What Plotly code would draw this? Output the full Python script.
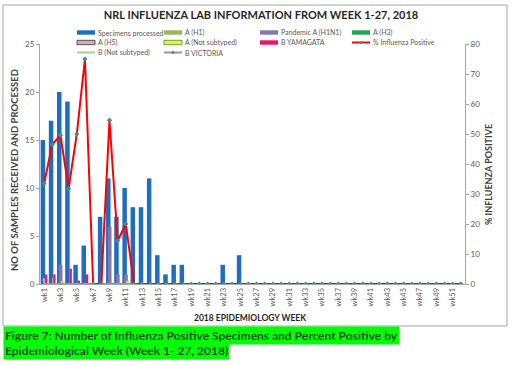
import plotly.graph_objects as go

weeks = ["wk%d" % i for i in range(1, 53)]
tick_weeks = weeks[::2]

specimens = [15, 17, 20, 19, 2, 4, 0, 7, 11, 7, 10, 8, 8, 11, 3, 1, 2, 2, 0, 0,
             0, 0, 2, 0, 3, 0, 0, 0, 0, 0, 0, 0, 0, 0, 0, 0, 0, 0, 0, 0,
             0, 0, 0, 0, 0, 0, 0, 0, 0, 0, 0, 0]
a_h1 = [0] * 52
pandemic_h1n1 = [0, 0, 2, 0, 0, 0, 0, 0, 6, 1, 1, 0, 0, 0, 0, 0, 0, 0, 0, 0,
                 0, 0, 0, 0, 0, 0, 0, 0, 0, 0, 0, 0, 0, 0, 0, 0, 0, 0, 0, 0,
                 0, 0, 0, 0, 0, 0, 0, 0, 0, 0, 0, 0]
a_h3 = [0] * 52
a_h5 = [0.6, 0, 0, 0, 0, 0, 0, 0, 0, 0, 0, 0, 0, 0, 0, 0, 0, 0, 0, 0,
        0, 0, 0, 0, 0, 0, 0, 0, 0, 0, 0, 0, 0, 0, 0, 0, 0, 0, 0, 0,
        0, 0, 0, 0, 0, 0, 0, 0, 0, 0, 0, 0]
a_not_subtyped = [0, 0.65, 0.3, 0, 0, 0, 0, 0, 0, 0, 0.35, 0, 0, 0, 0, 0, 0, 0, 0, 0,
                  0, 0, 0, 0, 0, 0, 0, 0, 0, 0, 0, 0, 0, 0, 0, 0, 0, 0, 0, 0,
                  0, 0, 0, 0, 0, 0, 0, 0, 0, 0, 0, 0]
b_yamagata = [1, 1, 0, 1.6, 0.35, 1, 0, 0, 0, 0, 0, 0, 0, 0, 0, 0, 0, 0, 0, 0,
              0, 0, 0, 0, 0, 0, 0, 0, 0, 0, 0, 0, 0, 0, 0, 0, 0, 0, 0, 0,
              0, 0, 0, 0, 0, 0, 0, 0, 0, 0, 0, 0]
b_not_subtyped = [0] * 52
b_victoria = [0] * 52
pct_positive = [33.5, 46.5, 49.6, 31.8, 50, 75, 0, 0, 54.6, 14.4, 20, 0, 0, 0, 0, 0, 0, 0, 0, 0,
                0, 0, 0, 0, 0, 0, 0, 0, 0, 0, 0, 0, 0, 0, 0, 0, 0, 0, 0, 0,
                0, 0, 0, 0, 0, 0, 0, 0, 0, 0, 0, 0]

FONT = "Lato"
GRAY = "#595959"

C_SPEC = "#1F6DC0"
C_H1 = "#9BB45A"
C_PAND = "#8574B0"
C_H3 = "#22A553"
C_H5 = "#D4A9BE"
C_ANS = "#EEF530"
C_YAM = "#F0126E"
C_PCT = "#FF0000"
C_PCT_MK = "#3F8F8C"
C_BNS = "#A9D18E"
C_VIC = "#9A8CC0"

fig = go.Figure()

def bar(name, vals, color, offset, width, line_color=None):
    fig.add_trace(go.Bar(
        name=name, x=weeks, y=vals, offset=offset, width=width, showlegend=False,
        marker=dict(color=color, line=dict(color=line_color or color, width=0.5 if line_color else 0)),
    ))

bar("Specimens processed", specimens, C_SPEC, -0.42, 0.55)
bar("A (H1)", a_h1, C_H1, -0.1, 0.3)
bar("Pandemic A (H1N1)", pandemic_h1n1, C_PAND, -0.2, 0.45)
bar("A (H3)", a_h3, C_H3, -0.1, 0.3)
bar("A (H5)", a_h5, "#B9A9D2", -0.15, 0.35)
bar("A (Not subtyped)", a_not_subtyped, C_ANS, 0.0, 0.28, "#4CA64C")
bar("B YAMAGATA", b_yamagata, C_YAM, 0.12, 0.28)

fig.add_trace(go.Scatter(
    name="B (Not subtyped)", x=weeks, y=b_not_subtyped, mode="lines", showlegend=False,
    line=dict(color=C_BNS, width=2),
))
fig.add_trace(go.Scatter(
    name="B VICTORIA", x=weeks, y=b_victoria, mode="lines+markers", showlegend=False,
    line=dict(color=C_VIC, width=2), marker=dict(size=3, color=C_VIC),
))
fig.add_trace(go.Scatter(
    name="% Influenza Positive", x=weeks, y=pct_positive, yaxis="y2", showlegend=False,
    mode="lines+markers", line=dict(color=C_PCT, width=2),
    marker=dict(symbol="diamond", size=4, color=C_PCT_MK),
))

L, R, T, B = 40, 465, 44, 284

def px_x(px):
    return (px - L) / float(R - L)

def px_y(py):
    return (B - py) / float(B - T)

fig.update_layout(
    width=512, height=365,
    margin=dict(l=L, r=512 - R, t=T, b=365 - B, autoexpand=False),
    paper_bgcolor="white", plot_bgcolor="white",
    barmode="overlay",
    font=dict(family=FONT, color=GRAY),
    showlegend=False,
    title=dict(text="<b>NRL INFLUENZA LAB INFORMATION FROM WEEK 1-27, 2018</b>",
               font=dict(family=FONT, size=11, color="#262626"),
               x=261 / 512, xref="container", xanchor="center",
               y=1 - 15 / 365, yref="container", yanchor="middle"),
    xaxis=dict(type="category", categoryorder="array", categoryarray=weeks,
               tickmode="array", tickvals=tick_weeks, ticktext=tick_weeks,
               tickangle=-90, tickfont=dict(size=7.5, color=GRAY),
               showline=True, linecolor="#A6A6A6", linewidth=1,
               ticks="", showgrid=False, range=[-0.5, 51.5]),
    yaxis=dict(range=[0, 25], tickvals=[0, 5, 10, 15, 20, 25],
               tickfont=dict(size=8, color=GRAY),
               showline=True, linecolor="#A6A6A6", linewidth=1,
               ticks="outside", ticklen=3, tickcolor="#A6A6A6",
               showgrid=False, zeroline=False),
    yaxis2=dict(overlaying="y", side="right", range=[0, 80],
                tickvals=[0, 10, 20, 30, 40, 50, 60, 70, 80],
                tickfont=dict(size=8, color=GRAY),
                showline=True, linecolor="#A6A6A6", linewidth=1,
                ticks="outside", ticklen=3, tickcolor="#A6A6A6",
                showgrid=False, zeroline=False),
)

# chart frame
fig.add_shape(type="rect", xref="paper", yref="paper",
              x0=px_x(3), x1=px_x(507), y0=px_y(326), y1=px_y(5),
              line=dict(color="#A6A6A6", width=1), fillcolor="rgba(0,0,0,0)", layer="below")

# legend (drawn manually to match the compact spreadsheet legend)
legend_items = [
    ("Specimens processed", "bar", C_SPEC, None, 77, 32.5),
    ("A (H1)", "bar", C_H1, None, 164, 32.5),
    ("Pandemic A (H1N1)", "bar", C_PAND, None, 260, 32.5),
    ("A (H3)", "bar", C_H3, None, 352, 32.5),
    ("A (H5)", "bar", C_H5, "#333333", 77, 42.5),
    ("A (Not subtyped)", "bar", C_ANS, "#3C8C3C", 164, 42.5),
    ("B YAMAGATA", "bar", C_YAM, None, 260, 42.5),
    ("% Influenza Positive", "linemk", C_PCT, C_PCT_MK, 352, 42.5),
    ("B (Not subtyped)", "line", C_BNS, None, 77, 52.5),
    ("B VICTORIA", "linemk", C_VIC, "#7F70A8", 164, 52.5),
]
for text, kind, col, col2, sx, sy in legend_items:
    if kind == "bar":
        fig.add_shape(type="rect", xref="paper", yref="paper",
                      x0=px_x(sx), x1=px_x(sx + 18), y0=px_y(sy + 2.2), y1=px_y(sy - 2.2),
                      fillcolor=col, line=dict(color=col2 or col, width=0.8 if col2 else 0))
    else:
        fig.add_shape(type="line", xref="paper", yref="paper",
                      x0=px_x(sx), x1=px_x(sx + 18), y0=px_y(sy), y1=px_y(sy),
                      line=dict(color=col, width=2))
        if kind == "linemk":
            fig.add_shape(type="circle", xref="paper", yref="paper",
                          x0=px_x(sx + 7.5), x1=px_x(sx + 10.5), y0=px_y(sy + 1.5), y1=px_y(sy - 1.5),
                          fillcolor=col2, line=dict(color=col2, width=0))
    fig.add_annotation(text=text, xref="paper", yref="paper", x=px_x(sx + 19), y=px_y(sy),
                       xanchor="left", yanchor="middle", showarrow=False,
                       font=dict(size=7, color=GRAY, family=FONT))

fig.add_annotation(text="<b>NO OF SAMPLES RECEIVED AND PROCESSED</b>", textangle=-90,
                   xref="paper", yref="paper", x=px_x(14), y=px_y(170),
                   xanchor="center", yanchor="middle",
                   showarrow=False, font=dict(size=9.5, color="#404040", family=FONT))
fig.add_annotation(text="<b>% INFLUENZA POSITIVE</b>", textangle=-90,
                   xref="paper", yref="paper", x=px_x(488), y=px_y(175),
                   xanchor="center", yanchor="middle",
                   showarrow=False, font=dict(size=9, color="#404040", family=FONT))
fig.add_annotation(text="<b>2018 EPIDEMIOLOGY WEEK</b>",
                   xref="paper", yref="paper", x=px_x(250), y=px_y(318),
                   xanchor="center", yanchor="middle",
                   showarrow=False, font=dict(size=8.5, color="#262626", family=FONT))

fig.add_annotation(text="<b>Figure 7: Number of Influenza Positive Specimens and Percent Positive by</b>",
                   xref="paper", yref="paper", x=px_x(3), y=px_y(335),
                   xanchor="left", yanchor="middle", showarrow=False,
                   bgcolor="#00FF00", borderpad=1,
                   font=dict(size=12, color="#1B531B", family=FONT))
fig.add_annotation(text="<b>Epidemiological Week (Week 1- 27, 2018)</b>",
                   xref="paper", yref="paper", x=px_x(3), y=px_y(350.5),
                   xanchor="left", yanchor="middle", showarrow=False,
                   bgcolor="#00FF00", borderpad=1,
                   font=dict(size=12, color="#1B531B", family=FONT))

fig.write_html("out.html",
               config={"displayModeBar": False, "staticPlot": True},
               post_script="document.body.style.margin='0';document.body.style.padding='0';")
